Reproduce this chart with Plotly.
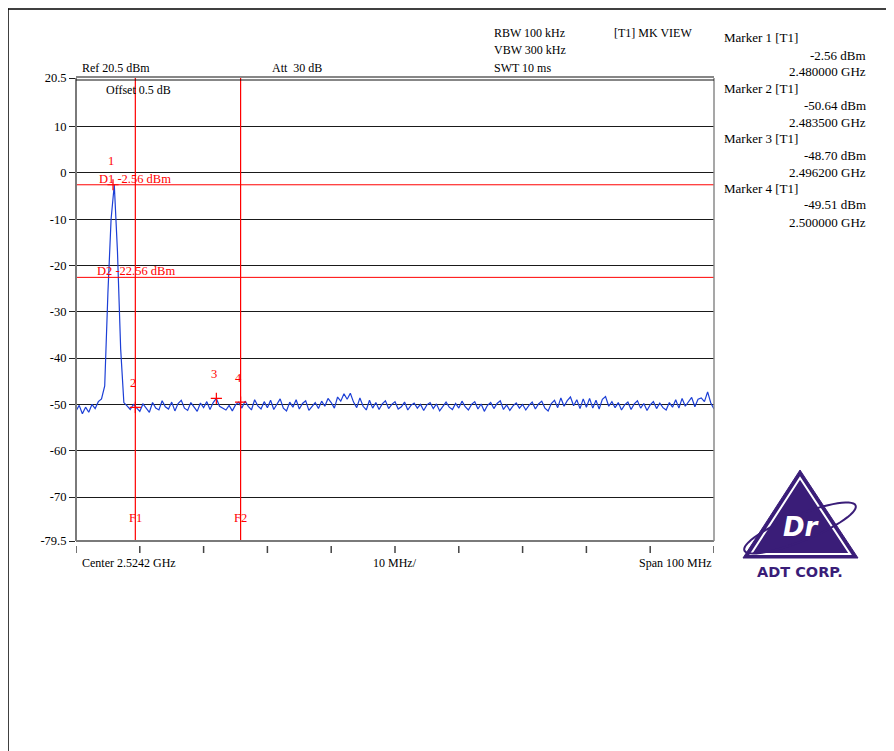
import numpy as np
import plotly.graph_objects as go

# ---------------- data ----------------
f_start = 2.4742   # GHz
f_stop = 2.5742    # GHz
levels = [
    -51.4, -50.2, -52.0, -50.6, -51.7, -50.0, -50.9, -49.4, -48.8, -46.0,
    -26.0, -10.0, -2.56, -17.0, -38.0, -49.6, -50.3, -51.1, -50.0, -50.64,
    -51.5, -49.9, -50.9, -51.7, -49.6, -50.8, -51.2, -49.2, -50.5, -51.0,
    -49.5, -51.4, -49.8, -49.1, -50.8, -51.3, -49.6, -50.6, -51.5, -49.7,
    -50.7, -49.4, -51.1, -49.6, -48.70, -50.4, -50.9, -51.2, -50.2, -51.4,
    -50.1, -49.51, -50.8, -49.3, -50.4, -51.2, -49.0, -50.3, -51.0, -49.4,
    -50.7, -49.1, -51.1, -49.9, -48.8, -50.8, -51.4, -49.5, -50.6, -49.0,
    -51.0, -49.8, -49.2, -51.3, -50.5, -49.6, -50.9, -49.3, -50.4, -48.7,
    -49.6, -50.8, -48.4, -49.3, -47.7, -48.9, -47.6, -49.5, -50.7, -48.6,
    -50.4, -51.2, -49.1, -50.8, -49.6, -51.1, -49.9, -49.2, -50.9, -50.0,
    -49.4, -51.0, -50.5, -49.5, -51.2, -50.2, -49.7, -50.8, -50.0, -51.3,
    -50.1, -49.6, -50.9, -49.9, -51.4, -50.3, -49.5, -50.6, -51.1, -49.8,
    -50.8, -49.3, -50.5, -51.2, -50.0, -49.4, -51.0, -49.9, -51.5, -50.2,
    -49.6, -50.9, -49.8, -49.2, -51.1, -50.1, -51.3, -50.3, -49.7, -50.8,
    -50.0, -51.2, -50.2, -49.5, -51.0, -49.9, -49.3, -50.8, -51.4, -49.8,
    -49.1, -50.7, -48.6, -50.4, -49.2, -48.4, -50.3, -49.0, -50.9, -48.8,
    -50.6, -48.7, -50.8, -49.1, -51.0, -48.9, -48.3, -50.4, -49.4, -50.7,
    -49.6, -51.2, -50.1, -49.5, -51.1, -49.9, -49.2, -50.8, -49.8, -51.3,
    -50.1, -49.4, -50.9, -49.7, -50.7, -51.2, -49.6, -50.6, -49.0, -50.8,
    -48.7, -50.4, -49.3, -48.5, -50.5, -48.9, -48.6, -49.4, -47.3, -49.7,
    -51.0,
]
marker_names = ["1", "2", "3", "4"]
marker_freqs = [2.480000, 2.483500, 2.496200, 2.500000]
marker_levels = [-2.56, -50.64, -48.70, -49.51]
display_lines = [-2.56, -22.56]
display_names = ["D1", "D2"]
freq_lines = [2.4835, 2.5000]
freq_names = ["F1", "F2"]
y_ticks = [20.5, 10, 0, -10, -20, -30, -40, -50, -60, -70, -79.5]
y_tick_text = ["20.5", "10", "0", "-10", "-20", "-30", "-40", "-50", "-60", "-70", "-79.5"]
x_ticks = [2.4742, 2.4842, 2.4942, 2.5042, 2.5142, 2.5242, 2.5342, 2.5442, 2.5542, 2.5642, 2.5742]

freqs = np.linspace(f_start, f_stop, len(levels))

# ---------------- layout helpers ----------------
W, H = 894, 751          # window size
OFF = 8                  # page body margin
L, R, T, B = 76, 714, 78, 541   # plot area in window pixels
def px(x):
    return (x - L) / (R - L)
def py(y):
    return (B - y) / (B - T)

FONT = "Liberation Serif"
RED = "#ff0000"
BLUE = "#1c3fd6"
PURPLE = "#3a1d78"

fig = go.Figure()
fig.add_trace(go.Scatter(x=freqs, y=levels, mode="lines",
                         line=dict(color=BLUE, width=1.2), hoverinfo="skip",
                         showlegend=False))
fig.add_trace(go.Scatter(x=marker_freqs, y=marker_levels, mode="markers",
                         marker=dict(symbol="cross-thin", size=8,
                                     line=dict(color=RED, width=1.2)),
                         showlegend=False, hoverinfo="skip"))

shapes = []
for d in display_lines:
    shapes.append(dict(type="line", xref="paper", yref="y", x0=0, x1=1, y0=d, y1=d,
                       line=dict(color=RED, width=1)))
for f in freq_lines:
    shapes.append(dict(type="line", xref="x", yref="paper", x0=f, x1=f, y0=0, y1=1,
                       line=dict(color=RED, width=1.2)))
for t in x_ticks:
    shapes.append(dict(type="line", xref="x", yref="paper", x0=t, x1=t,
                       y0=py(546), y1=py(553), line=dict(color="#444", width=1.5)))
shapes += [
    dict(type="line", xref="paper", yref="paper", x0=0, x1=0, y0=0, y1=1,
         line=dict(color="#7a7a7a", width=2)),
    dict(type="line", xref="paper", yref="paper", x0=0, x1=1, y0=0, y1=0,
         line=dict(color="#7a7a7a", width=2)),
    dict(type="line", xref="paper", yref="paper", x0=1, x1=1, y0=0, y1=1,
         line=dict(color="#8a8a8a", width=1.5)),
    dict(type="line", xref="paper", yref="paper", x0=0, x1=1, y0=py(77), y1=py(77),
         line=dict(color="#111", width=1.2)),
    dict(type="line", xref="paper", yref="paper", x0=0, x1=1, y0=py(80), y1=py(80),
         line=dict(color="#111", width=1.2)),
    dict(type="line", xref="paper", yref="paper", x0=px(8), x1=px(900), y0=py(9), y1=py(9),
         line=dict(color="#000", width=1.5)),
    dict(type="line", xref="paper", yref="paper", x0=px(8), x1=px(8), y0=py(8.5), y1=py(760),
         line=dict(color="#000", width=1.5)),
]

def path(points, close=True):
    s = "M " + " L ".join(f"{px(a):.5f},{py(b):.5f}" for a, b in points)
    return s + (" Z" if close else "")

shapes.append(dict(type="path", xref="paper", yref="paper",
                   path=path([(800, 470), (743, 558), (858, 558)]),
                   fillcolor=PURPLE, line=dict(color=PURPLE, width=1)))
shapes.append(dict(type="path", xref="paper", yref="paper",
                   path=path([(800, 478), (751, 554), (850, 554)]),
                   fillcolor="rgba(0,0,0,0)", line=dict(color="white", width=2)))
th = np.linspace(0, 2 * np.pi, 60)
a, b, rot = 60, 13, np.deg2rad(-22)
ex = 800 + a * np.cos(th) * np.cos(rot) - b * np.sin(th) * np.sin(rot)
ey = 528 + a * np.cos(th) * np.sin(rot) + b * np.sin(th) * np.cos(rot)
shapes.append(dict(type="path", xref="paper", yref="paper",
                   path=path(list(zip(ex, ey))),
                   fillcolor="rgba(0,0,0,0)", line=dict(color=PURPLE, width=2)))

ann = []
def text(x, y, s, size=12, color="black", xanchor="left", family=FONT, **kw):
    ann.append(dict(xref="paper", yref="paper", x=px(x), y=py(y), text=s,
                    showarrow=False, xanchor=xanchor, yanchor="middle",
                    font=dict(family=family, size=size, color=color), **kw))

text(80, 68, "Ref 20.5 dBm")
text(270, 68, "Att  30 dB")
text(492, 33, "RBW 100 kHz")
text(492, 50, "VBW 300 kHz")
text(492, 68, "SWT 10 ms")
text(612, 33, "[T1] MK VIEW")
text(104, 90, "Offset 0.5 dB")
text(80, 563, "Center 2.5242 GHz")
text(395, 563, "10 MHz/", xanchor="center")
text(714, 563, "Span 100 MHz", xanchor="right")

text(97, 179, f"{display_names[0]} {display_lines[0]:.2f} dBm", color=RED, size=12.5)
text(95, 271, f"{display_names[1]} {display_lines[1]:.2f} dBm", color=RED, size=12.5)
for name, f in zip(freq_names, freq_lines):
    ann.append(dict(xref="x", yref="paper", x=f, y=py(518), text=name, showarrow=False,
                    xanchor="center", yanchor="middle",
                    font=dict(family=FONT, size=12.5, color=RED)))
for n, f, v in zip(marker_names, marker_freqs, marker_levels):
    ann.append(dict(xref="x", yref="y", x=f, y=v, text=n, showarrow=False,
                    xanchor="center", yanchor="middle", yshift=24, xshift=-2,
                    font=dict(family=FONT, size=12.5, color=RED)))

for k, (n, f, v) in enumerate(zip(marker_names, marker_freqs, marker_levels)):
    y0 = 38 + k * 50
    text(722, y0, f"Marker {n} [T1]", size=13)
    text(868, y0 + 17, f"{v:.2f} dBm", size=13, xanchor="right")
    text(868, y0 + 34, f"{f:.6f} GHz", size=13, xanchor="right")

text(801, 527, "<b><i>Dr</i></b>", size=26, color="white", xanchor="center",
     family="DejaVu Sans")
text(800, 572, "<b>ADT CORP.</b>", size=14.5, color=PURPLE, xanchor="center",
     family="DejaVu Sans")

fig.update_layout(
    width=W - OFF, height=H - OFF, autosize=False,
    margin=dict(l=L - OFF, r=W - R, t=T - OFF, b=H - B, pad=0),
    paper_bgcolor="white", plot_bgcolor="white",
    showlegend=False, shapes=shapes, annotations=ann,
    xaxis=dict(range=[f_start, f_stop], showgrid=False, zeroline=False,
               showticklabels=False, ticks="", showline=False, fixedrange=True),
    yaxis=dict(range=[-79.5, 20.5], tickvals=y_ticks, ticktext=y_tick_text,
               showgrid=True, gridcolor="#1a1a1a", gridwidth=1, zeroline=False,
               ticks="outside", ticklen=6, tickcolor="#222", tickwidth=1,
               showline=False,
               tickfont=dict(family=FONT, size=12.5, color="black"), fixedrange=True),
)

fig.write_html("out.html", config={"displayModeBar": False})
